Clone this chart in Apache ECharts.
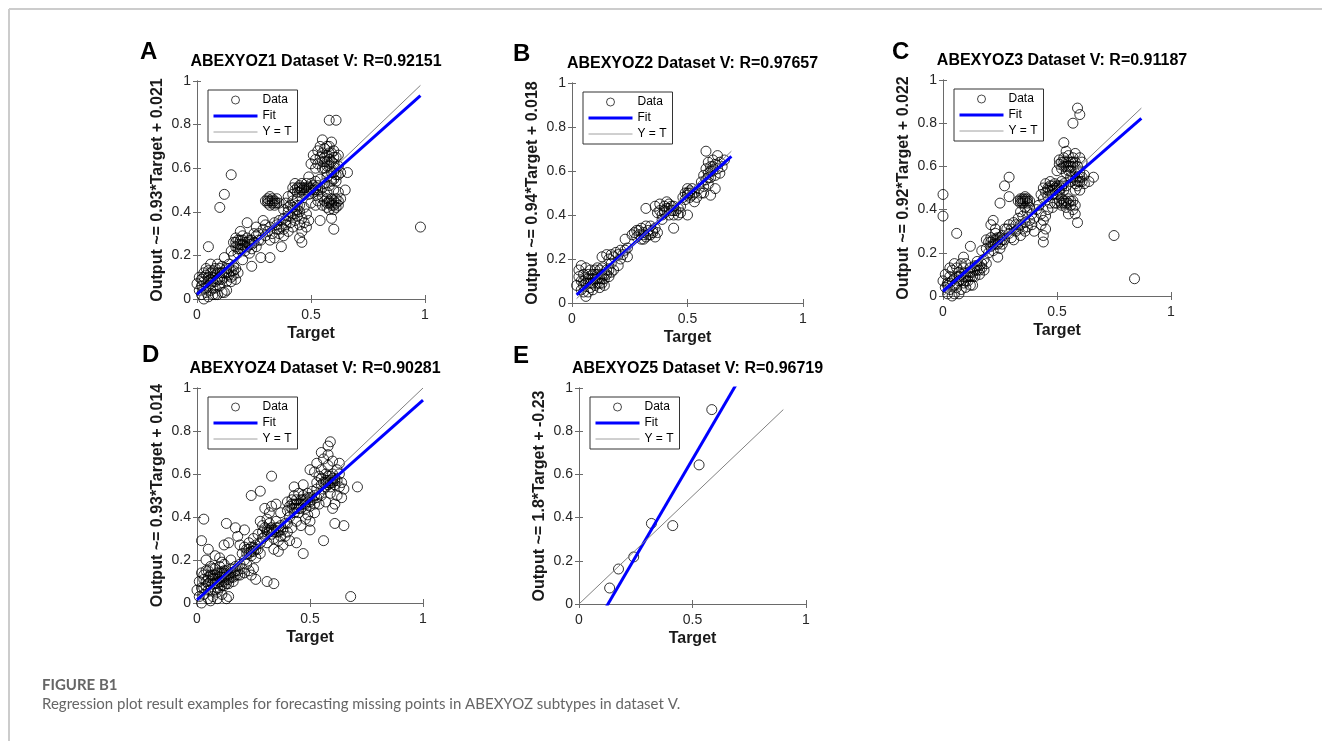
<!DOCTYPE html>
<html>
<head>
<meta charset="utf-8">
<title>Figure B1</title>
<script src="https://cdn.jsdelivr.net/npm/echarts@6/dist/echarts.min.js"></script>
<style>
  html, body { margin: 0; padding: 0; background: #fff; }
  #chart { width: 1322px; height: 741px; }
</style>
</head>
<body>
<div id="chart"></div>
<script>
// panel labels and texts
const panelLetters = ['A', 'B', 'C', 'D', 'E'];
const panelTitles = [
  'ABEXYOZ1 Dataset V: R=0.92151',
  'ABEXYOZ2 Dataset V: R=0.97657',
  'ABEXYOZ3 Dataset V: R=0.91187',
  'ABEXYOZ4 Dataset V: R=0.90281',
  'ABEXYOZ5 Dataset V: R=0.96719'
];
const yNames = [
  'Output ~= 0.93*Target + 0.021',
  'Output ~= 0.94*Target + 0.018',
  'Output ~= 0.92*Target + 0.022',
  'Output ~= 0.93*Target + 0.014',
  'Output ~= 1.8*Target + -0.23'
];
const xTicks = [0, 0.5, 1];
const yTicks = [0, 0.2, 0.4, 0.6, 0.8, 1];

// fit line: slope / intercept as printed, drawn over the target range
const fitSlope = [0.93, 0.94, 0.92, 0.93, 1.8];
const fitIntercept = [0.021, 0.018, 0.022, 0.014, -0.23];
const lineRange = [[0, 0.98], [0.02, 0.69], [0, 0.87], [0, 1.0], [0, 0.9]];

// scatter points [target, output]
const dataA = [
  [0.00,0.07],[0.01,0.04],[0.01,0.10],[0.02,0.02],[0.02,0.06],[0.03,0.12],[0.03,0.08],[0.04,0.03],[0.04,0.14],[0.05,0.06],
  [0.05,0.10],[0.05,0.01],[0.06,0.04],[0.06,0.12],[0.06,0.16],[0.07,0.08],[0.07,0.02],[0.08,0.11],[0.08,0.05],[0.08,0.14],
  [0.09,0.09],[0.09,0.02],[0.10,0.12],[0.10,0.06],[0.11,0.15],[0.11,0.09],[0.12,0.03],[0.12,0.12],[0.13,0.08],[0.13,0.14],
  [0.14,0.11],[0.14,0.16],[0.15,0.13],[0.15,0.08],[0.16,0.15],[0.16,0.11],[0.17,0.14],[0.17,0.09],[0.18,0.12],[0.04,0.11],
  [0.07,0.13],[0.09,0.16],[0.12,0.19],[0.03,0.00],[0.07,0.10],[0.10,0.09],[0.13,0.04],[0.11,0.03],
  [0.02,0.09],[0.03,0.05],[0.04,0.05],[0.05,0.08],[0.06,0.09],[0.06,0.07],[0.07,0.05],[0.08,0.08],[0.09,0.12],[0.10,0.10],
  [0.11,0.12],[0.12,0.10],[0.13,0.12],[0.14,0.14],[0.15,0.10],[0.16,0.13],[0.05,0.13],[0.08,0.02],[0.03,0.10],[0.10,0.14],
  [0.15,0.22],[0.16,0.26],[0.17,0.24],[0.17,0.28],[0.18,0.21],[0.18,0.25],[0.19,0.27],[0.19,0.23],[0.20,0.25],[0.20,0.29],
  [0.21,0.22],[0.21,0.26],[0.22,0.24],[0.22,0.28],[0.23,0.25],[0.23,0.21],[0.24,0.27],[0.24,0.23],[0.25,0.26],[0.26,0.24],
  [0.26,0.29],[0.27,0.27],[0.16,0.20],[0.19,0.31],[0.22,0.35],[0.24,0.15],[0.28,0.19],[0.32,0.19],[0.25,0.30],[0.20,0.18],
  [0.17,0.26],[0.18,0.23],[0.19,0.25],[0.20,0.27],[0.21,0.24],[0.22,0.26],[0.23,0.27],[0.18,0.27],[0.20,0.23],[0.24,0.25],
  [0.05,0.24],[0.10,0.42],[0.12,0.48],[0.15,0.57],
  [0.27,0.30],[0.28,0.27],[0.29,0.32],[0.30,0.29],[0.30,0.34],[0.31,0.31],[0.32,0.27],[0.32,0.33],[0.33,0.30],[0.34,0.35],
  [0.34,0.28],[0.35,0.32],[0.36,0.30],[0.36,0.36],[0.37,0.33],[0.38,0.29],[0.38,0.37],[0.39,0.34],[0.40,0.31],[0.40,0.38],
  [0.41,0.35],[0.42,0.33],[0.37,0.24],[0.29,0.36],[0.26,0.33],
  [0.35,0.34],[0.36,0.32],[0.38,0.32],[0.39,0.36],[0.41,0.38],[0.43,0.39],[0.44,0.41],[0.45,0.43],[0.40,0.42],[0.42,0.42],
  [0.31,0.44],[0.31,0.46],[0.32,0.45],[0.32,0.43],[0.33,0.46],[0.33,0.44],[0.34,0.45],[0.34,0.43],[0.35,0.46],[0.36,0.44],[0.30,0.45],
  [0.31,0.45],[0.32,0.47],[0.33,0.45],[0.34,0.44],[0.35,0.44],
  [0.38,0.41],[0.39,0.44],[0.40,0.40],[0.41,0.43],[0.42,0.39],[0.42,0.45],[0.43,0.41],[0.43,0.36],[0.44,0.43],[0.44,0.38],
  [0.45,0.34],[0.45,0.40],[0.46,0.37],[0.46,0.31],[0.47,0.42],[0.47,0.35],[0.48,0.33],[0.48,0.39],[0.45,0.28],[0.46,0.26],
  [0.49,0.36],[0.44,0.46],[0.42,0.48],[0.40,0.47],
  [0.42,0.51],[0.43,0.50],[0.43,0.53],[0.44,0.51],[0.45,0.49],[0.45,0.52],[0.46,0.50],[0.46,0.53],[0.47,0.48],[0.47,0.51],
  [0.48,0.50],[0.48,0.53],[0.49,0.51],[0.49,0.48],[0.50,0.50],
  [0.44,0.49],[0.45,0.51],[0.46,0.51],[0.47,0.50],[0.48,0.51],[0.50,0.51],[0.51,0.50],[0.52,0.51],[0.53,0.50],
  [0.50,0.53],[0.51,0.49],[0.51,0.52],[0.52,0.50],[0.52,0.54],[0.53,0.48],[0.53,0.52],[0.54,0.50],[0.54,0.55],[0.55,0.51],
  [0.55,0.47],[0.56,0.53],[0.57,0.49],[0.57,0.56],[0.58,0.52],[0.59,0.55],[0.60,0.50],[0.61,0.54],[0.62,0.57],[0.63,0.58],[0.62,0.49],
  [0.50,0.62],[0.51,0.66],[0.52,0.60],[0.52,0.64],[0.53,0.68],[0.53,0.62],[0.54,0.65],[0.54,0.70],[0.55,0.60],[0.55,0.67],
  [0.55,0.73],[0.56,0.63],[0.56,0.69],[0.57,0.66],[0.57,0.61],[0.58,0.70],[0.58,0.64],[0.59,0.67],[0.59,0.72],[0.60,0.62],
  [0.60,0.68],[0.61,0.65],[0.62,0.66],[0.59,0.58],[0.57,0.58],[0.58,0.82],[0.61,0.82],[0.49,0.56],
  [0.55,0.63],[0.56,0.65],[0.57,0.63],[0.58,0.67],[0.59,0.63],[0.60,0.65],[0.58,0.61],[0.56,0.60],[0.57,0.70],[0.60,0.58],
  [0.61,0.60],[0.62,0.61],[0.59,0.54],[0.60,0.55],[0.61,0.57],
  [0.55,0.43],[0.56,0.45],[0.57,0.42],[0.57,0.46],[0.58,0.44],[0.58,0.41],[0.59,0.46],[0.59,0.43],[0.60,0.45],[0.60,0.41],
  [0.61,0.44],[0.62,0.43],[0.63,0.46],[0.54,0.36],[0.59,0.37],[0.60,0.32],[0.52,0.43],[0.53,0.45],[0.65,0.50],[0.66,0.58],[0.50,0.44],
  [0.58,0.45],[0.59,0.44],[0.60,0.43],[0.61,0.42],[0.57,0.44],[0.62,0.45],[0.61,0.46],
  [0.98,0.33]
];

const dataB = [
  [0.02,0.08],[0.03,0.12],[0.03,0.15],[0.04,0.10],[0.04,0.06],[0.05,0.13],[0.05,0.08],[0.06,0.03],[0.06,0.11],[0.06,0.16],
  [0.07,0.09],[0.07,0.13],[0.08,0.07],[0.08,0.11],[0.08,0.15],[0.09,0.09],[0.09,0.13],[0.10,0.08],[0.10,0.11],[0.10,0.15],
  [0.11,0.09],[0.11,0.13],[0.12,0.07],[0.12,0.11],[0.12,0.15],[0.13,0.09],[0.13,0.13],[0.14,0.08],[0.14,0.11],[0.15,0.13],
  [0.15,0.15],[0.16,0.12],[0.16,0.15],[0.17,0.14],[0.18,0.15],[0.05,0.05],[0.09,0.06],[0.07,0.05],[0.11,0.16],[0.13,0.16],[0.04,0.17],
  [0.06,0.09],[0.07,0.11],[0.08,0.09],[0.09,0.11],[0.10,0.13],[0.11,0.11],[0.12,0.09],[0.13,0.11],[0.14,0.13],[0.05,0.10],
  [0.13,0.21],[0.15,0.22],[0.16,0.20],[0.17,0.22],[0.18,0.21],[0.19,0.23],[0.20,0.22],[0.21,0.20],[0.21,0.24],[0.22,0.22],
  [0.23,0.24],[0.24,0.21],[0.24,0.25],[0.23,0.29],[0.20,0.17],[0.17,0.18],
  [0.26,0.31],[0.27,0.32],[0.28,0.30],[0.28,0.33],[0.29,0.31],[0.30,0.34],[0.30,0.29],[0.31,0.32],[0.32,0.35],[0.32,0.30],
  [0.33,0.33],[0.34,0.31],[0.34,0.35],[0.35,0.32],[0.36,0.30],[0.36,0.34],[0.37,0.32],[0.32,0.43],[0.31,0.29],
  [0.29,0.33],[0.31,0.31],[0.33,0.31],[0.35,0.33],
  [0.36,0.44],[0.37,0.41],[0.38,0.45],[0.38,0.42],[0.39,0.40],[0.40,0.44],[0.40,0.41],[0.41,0.43],[0.42,0.40],[0.42,0.45],
  [0.43,0.42],[0.44,0.40],[0.44,0.44],[0.45,0.42],[0.46,0.43],[0.46,0.40],[0.47,0.41],[0.47,0.44],[0.44,0.34],[0.50,0.40],
  [0.39,0.38],[0.41,0.46],[0.40,0.42],[0.42,0.43],[0.43,0.44],[0.44,0.42],
  [0.48,0.48],[0.49,0.47],[0.49,0.50],[0.50,0.49],[0.50,0.52],[0.51,0.48],[0.51,0.51],[0.52,0.49],[0.52,0.52],[0.53,0.50],
  [0.54,0.48],[0.53,0.46],[0.50,0.50],[0.51,0.50],
  [0.55,0.52],[0.56,0.55],[0.56,0.50],[0.57,0.53],[0.57,0.58],[0.58,0.56],[0.58,0.61],[0.58,0.69],[0.59,0.54],[0.59,0.59],
  [0.59,0.64],[0.60,0.57],[0.60,0.62],[0.61,0.60],[0.61,0.65],[0.62,0.58],[0.62,0.63],[0.62,0.52],[0.63,0.61],[0.63,0.67],
  [0.64,0.59],[0.64,0.64],[0.65,0.62],[0.66,0.65],[0.60,0.49],[0.57,0.50],[0.60,0.60],[0.61,0.62],[0.59,0.57]
];

const dataC = [
  [0.00,0.47],[0.00,0.37],[0.06,0.29],[0.12,0.23],[0.75,0.28],[0.84,0.08],[0.59,0.87],[0.60,0.84],[0.57,0.80],[0.53,0.71],
  [0.29,0.55],[0.27,0.51],[0.25,0.43],[0.29,0.46],[0.22,0.35],[0.21,0.33],[0.17,0.21],[0.09,0.18],[0.08,0.15],
  [0.00,0.07],[0.01,0.04],[0.01,0.10],[0.02,0.01],[0.02,0.06],[0.03,0.09],[0.03,0.03],[0.04,0.07],[0.04,0.12],[0.05,0.05],
  [0.05,0.01],[0.06,0.09],[0.06,0.04],[0.07,0.11],[0.07,0.07],[0.08,0.03],[0.08,0.10],[0.09,0.06],[0.09,0.13],[0.10,0.09],
  [0.10,0.04],[0.11,0.11],[0.11,0.07],[0.12,0.13],[0.12,0.09],[0.13,0.05],[0.13,0.11],[0.14,0.14],[0.14,0.09],[0.15,0.12],
  [0.15,0.16],[0.16,0.10],[0.16,0.14],[0.17,0.15],[0.18,0.12],[0.18,0.17],[0.19,0.15],[0.03,0.13],[0.05,0.15],[0.07,0.01],
  [0.10,0.15],[0.12,0.05],[0.04,0.00],[0.06,0.13],
  [0.02,0.05],[0.03,0.06],[0.05,0.08],[0.06,0.06],[0.07,0.09],[0.08,0.07],[0.09,0.09],[0.10,0.07],[0.11,0.09],[0.12,0.11],
  [0.13,0.09],[0.14,0.12],[0.15,0.14],[0.16,0.12],[0.17,0.13],
  [0.19,0.22],[0.20,0.25],[0.20,0.20],[0.21,0.23],[0.21,0.27],[0.22,0.24],[0.22,0.21],[0.23,0.26],[0.23,0.29],[0.24,0.24],
  [0.24,0.27],[0.25,0.25],[0.25,0.22],[0.26,0.28],[0.26,0.24],[0.27,0.26],[0.24,0.18],[0.23,0.31],[0.27,0.31],[0.19,0.26],
  [0.21,0.25],[0.22,0.26],[0.23,0.24],[0.24,0.26],[0.25,0.27],[0.26,0.26],
  [0.28,0.31],[0.29,0.29],[0.29,0.33],[0.30,0.31],[0.31,0.26],[0.31,0.34],[0.32,0.30],[0.32,0.33],[0.33,0.36],[0.33,0.31],
  [0.34,0.28],[0.34,0.33],[0.35,0.31],[0.35,0.37],[0.36,0.34],[0.36,0.30],[0.37,0.32],[0.37,0.39],[0.38,0.35],[0.38,0.41],
  [0.39,0.33],[0.39,0.38],[0.40,0.36],[0.40,0.30],[0.34,0.39],[0.36,0.41],[0.41,0.40],[0.30,0.27],
  [0.33,0.44],[0.34,0.45],[0.34,0.43],[0.35,0.45],[0.35,0.43],[0.36,0.44],[0.37,0.45],[0.37,0.43],[0.38,0.44],[0.36,0.46],
  [0.34,0.44],[0.35,0.44],[0.36,0.45],[0.37,0.44],
  [0.44,0.25],[0.44,0.28],[0.43,0.33],[0.44,0.35],[0.45,0.37],[0.45,0.31],[0.43,0.38],[0.42,0.42],[0.46,0.40],
  [0.43,0.47],[0.44,0.50],[0.44,0.45],[0.45,0.48],[0.45,0.52],[0.46,0.50],[0.46,0.46],[0.47,0.49],[0.47,0.53],[0.48,0.47],
  [0.48,0.51],[0.49,0.49],[0.49,0.52],[0.50,0.50],[0.50,0.47],[0.51,0.51],[0.51,0.48],[0.52,0.50],[0.52,0.53],[0.53,0.49],
  [0.53,0.52],[0.54,0.51],[0.47,0.43],[0.49,0.43],[0.48,0.41],
  [0.46,0.49],[0.47,0.51],[0.48,0.49],[0.49,0.50],[0.50,0.51],[0.51,0.49],[0.52,0.51],
  [0.50,0.43],[0.51,0.44],[0.52,0.42],[0.52,0.45],[0.53,0.43],[0.54,0.44],[0.54,0.41],[0.55,0.43],[0.55,0.45],[0.56,0.42],
  [0.57,0.44],[0.57,0.40],[0.58,0.42],[0.55,0.38],[0.59,0.34],[0.58,0.38],
  [0.52,0.43],[0.53,0.44],[0.54,0.43],[0.56,0.44],
  [0.50,0.58],[0.51,0.61],[0.51,0.63],[0.52,0.59],[0.52,0.62],[0.53,0.64],[0.53,0.60],[0.54,0.57],[0.54,0.62],[0.55,0.65],
  [0.55,0.60],[0.56,0.58],[0.56,0.62],[0.57,0.60],[0.57,0.64],[0.58,0.62],[0.58,0.66],[0.59,0.60],[0.60,0.64],[0.61,0.62],
  [0.58,0.57],[0.54,0.67],[0.56,0.55],
  [0.53,0.62],[0.54,0.60],[0.55,0.62],[0.56,0.60],[0.57,0.62],[0.55,0.58],
  [0.56,0.53],[0.57,0.55],[0.58,0.52],[0.59,0.55],[0.59,0.51],[0.60,0.53],[0.60,0.57],[0.61,0.55],[0.62,0.52],[0.62,0.56],
  [0.64,0.53],[0.66,0.55],[0.60,0.49],[0.58,0.49],[0.58,0.54],[0.59,0.53],[0.60,0.55],[0.61,0.53]
];

const dataD = [
  [0.03,0.39],[0.02,0.29],[0.13,0.37],[0.12,0.27],[0.14,0.28],[0.24,0.50],[0.28,0.52],[0.33,0.59],[0.31,0.10],[0.34,0.09],
  [0.68,0.03],[0.71,0.54],[0.56,0.29],[0.65,0.36],[0.61,0.37],[0.50,0.34],[0.50,0.38],[0.47,0.23],[0.59,0.75],[0.58,0.73],
  [0.52,0.61],[0.50,0.62],[0.55,0.70],[0.26,0.11],[0.24,0.13],[0.05,0.25],[0.08,0.22],[0.18,0.31],[0.21,0.34],[0.17,0.35],
  [0.00,0.06],[0.01,0.03],[0.01,0.10],[0.02,0.14],[0.02,0.07],[0.03,0.04],[0.03,0.11],[0.04,0.08],[0.04,0.15],[0.05,0.02],
  [0.05,0.12],[0.06,0.06],[0.06,0.17],[0.07,0.09],[0.07,0.13],[0.07,0.03],[0.08,0.11],[0.08,0.06],[0.08,0.16],[0.09,0.09],
  [0.09,0.14],[0.09,0.02],[0.10,0.12],[0.10,0.07],[0.10,0.17],[0.11,0.10],[0.11,0.14],[0.11,0.04],[0.12,0.08],[0.12,0.12],
  [0.12,0.18],[0.13,0.11],[0.13,0.15],[0.14,0.09],[0.14,0.13],[0.14,0.03],[0.15,0.12],[0.15,0.16],[0.16,0.14],[0.16,0.10],
  [0.17,0.13],[0.17,0.17],[0.18,0.15],[0.19,0.13],[0.19,0.18],[0.20,0.16],[0.21,0.14],[0.04,0.20],[0.06,0.01],[0.13,0.02],
  [0.10,0.21],[0.15,0.20],[0.03,0.13],[0.05,0.09],[0.09,0.05],[0.12,0.15],[0.02,0.00],[0.11,0.19],
  [0.03,0.07],[0.04,0.10],[0.05,0.06],[0.06,0.10],[0.06,0.13],[0.07,0.11],[0.08,0.09],[0.08,0.13],[0.09,0.11],[0.09,0.07],
  [0.10,0.10],[0.10,0.14],[0.11,0.12],[0.11,0.08],[0.12,0.10],[0.12,0.14],[0.13,0.13],[0.13,0.09],[0.14,0.11],[0.15,0.14],
  [0.16,0.12],[0.17,0.15],[0.18,0.13],[0.05,0.15],[0.07,0.16],
  [0.20,0.23],[0.21,0.20],[0.21,0.26],[0.22,0.23],[0.22,0.18],[0.23,0.25],[0.23,0.28],[0.24,0.22],[0.24,0.26],[0.25,0.24],
  [0.25,0.30],[0.26,0.27],[0.26,0.21],[0.27,0.25],[0.27,0.32],[0.28,0.28],[0.28,0.23],[0.29,0.30],[0.25,0.16],[0.23,0.15],
  [0.19,0.27],[0.29,0.36],[0.22,0.25],[0.23,0.23],[0.24,0.24],[0.25,0.26],[0.26,0.25],
  [0.29,0.33],[0.30,0.31],[0.30,0.35],[0.31,0.33],[0.31,0.28],[0.32,0.34],[0.32,0.37],[0.33,0.32],[0.33,0.35],[0.34,0.33],
  [0.34,0.30],[0.35,0.35],[0.35,0.38],[0.36,0.33],[0.36,0.29],[0.37,0.36],[0.37,0.31],[0.38,0.34],[0.38,0.27],[0.39,0.31],
  [0.39,0.37],[0.40,0.33],[0.34,0.25],[0.36,0.24],[0.32,0.42],[0.30,0.44],[0.35,0.46],[0.33,0.45],[0.37,0.42],[0.31,0.39],[0.28,0.38],
  [0.31,0.34],[0.32,0.33],[0.33,0.34],[0.34,0.34],[0.35,0.33],[0.36,0.35],[0.37,0.34],
  [0.40,0.43],[0.40,0.47],[0.41,0.45],[0.41,0.40],[0.42,0.44],[0.42,0.48],[0.43,0.42],[0.43,0.46],[0.43,0.50],[0.44,0.44],
  [0.44,0.48],[0.45,0.46],[0.45,0.42],[0.45,0.51],[0.46,0.48],[0.46,0.44],[0.47,0.46],[0.47,0.50],[0.48,0.48],[0.48,0.44],
  [0.49,0.47],[0.49,0.51],[0.50,0.49],[0.50,0.45],[0.51,0.48],[0.51,0.52],[0.52,0.50],[0.52,0.46],[0.53,0.49],[0.53,0.53],
  [0.54,0.51],[0.44,0.38],[0.46,0.36],[0.48,0.39],[0.42,0.35],[0.41,0.29],[0.44,0.28],[0.40,0.37],[0.43,0.54],[0.47,0.55],
  [0.49,0.41],[0.52,0.42],[0.54,0.46],
  [0.42,0.46],[0.43,0.44],[0.44,0.46],[0.45,0.44],[0.46,0.46],[0.47,0.48],[0.48,0.46],[0.49,0.49],[0.50,0.47],
  [0.53,0.56],[0.54,0.59],[0.55,0.55],[0.55,0.58],[0.55,0.62],[0.56,0.56],[0.56,0.53],[0.57,0.57],[0.57,0.60],[0.57,0.54],
  [0.58,0.56],[0.58,0.59],[0.58,0.64],[0.59,0.57],[0.59,0.54],[0.60,0.56],[0.60,0.60],[0.60,0.66],[0.61,0.55],[0.61,0.58],
  [0.62,0.57],[0.62,0.62],[0.63,0.54],[0.63,0.60],[0.64,0.56],[0.62,0.50],[0.64,0.49],[0.61,0.46],[0.57,0.47],[0.55,0.50],
  [0.59,0.51],[0.56,0.67],[0.53,0.65],[0.58,0.69],[0.63,0.65],[0.65,0.53],[0.60,0.44],
  [0.57,0.56],[0.58,0.57],[0.59,0.56],[0.60,0.58],[0.61,0.57],[0.59,0.59],[0.58,0.55]
];

const dataE = [
  [0.135,0.074],[0.174,0.162],[0.241,0.218],[0.319,0.373],[0.413,0.363],[0.529,0.644],[0.585,0.90]
];

const panelData = [dataA, dataB, dataC, dataD, dataE];

// plot boxes in page pixels
const boxes = [
  { left: 197, top: 81, width: 228, height: 218 },
  { left: 572, top: 83, width: 231, height: 220 },
  { left: 943, top: 80, width: 228, height: 216 },
  { left: 197, top: 388, width: 226, height: 215 },
  { left: 579, top: 388, width: 227, height: 216 }
];

const FONT = '"Liberation Sans", Arial, sans-serif';
const axisGray = '#6a6a6a';

const chart = echarts.init(document.getElementById('chart'), null, { renderer: 'canvas' });

const grids = [], xAxes = [], yAxes = [], series = [], legends = [], graphics = [];

boxes.forEach((b, i) => {
  grids.push({ left: b.left, top: b.top, width: b.width, height: b.height, containLabel: false });

  const tickStyle = { show: true, inside: true, length: 4, lineStyle: { color: axisGray, width: 1 } };
  const lineStyle = { show: true, lineStyle: { color: axisGray, width: 1 } };

  // bottom and top x axes
  xAxes.push({
    type: 'value', gridIndex: i, position: 'bottom', min: 0, max: 1, interval: 0.5,
    axisLine: lineStyle, axisTick: tickStyle, splitLine: { show: false },
    axisLabel: { fontSize: 14, color: '#262626', fontFamily: FONT, margin: 9,
      formatter: v => xTicks.indexOf(v) >= 0 ? String(v) : '' },
    name: 'Target', nameLocation: 'middle', nameGap: 27,
    nameTextStyle: { fontSize: 16, fontWeight: 'bold', color: '#1a1a1a', fontFamily: FONT }
  });
  xAxes.push({
    type: 'value', gridIndex: i, position: 'top', min: 0, max: 1, interval: 0.5,
    axisLine: lineStyle, axisTick: tickStyle, axisLabel: { show: false }, splitLine: { show: false }
  });

  // left and right y axes
  yAxes.push({
    type: 'value', gridIndex: i, position: 'left', min: 0, max: 1, interval: 0.2,
    axisLine: lineStyle, axisTick: tickStyle, splitLine: { show: false },
    axisLabel: { fontSize: 14, color: '#262626', fontFamily: FONT, margin: 6,
      formatter: v => String(yTicks[Math.round(v * 5)]) },
    name: yNames[i], nameLocation: 'middle', nameGap: 31,
    nameTextStyle: { fontSize: 16, fontWeight: 'bold', color: '#1a1a1a', fontFamily: FONT }
  });
  yAxes.push({
    type: 'value', gridIndex: i, position: 'right', min: 0, max: 1, interval: 0.2,
    axisLine: lineStyle, axisTick: tickStyle, axisLabel: { show: false }, splitLine: { show: false }
  });

  series.push({
    name: 'Data', type: 'scatter', xAxisIndex: 2 * i, yAxisIndex: 2 * i,
    data: panelData[i], symbol: 'circle', symbolSize: 10,
    itemStyle: { color: 'rgba(0,0,0,0)', borderColor: '#000', borderWidth: 1 },
    emphasis: { disabled: true }, silent: true, z: 2
  });

  const r = lineRange[i];
  series.push({
    name: 'Fit', type: 'line', xAxisIndex: 2 * i, yAxisIndex: 2 * i,
    data: r.map(x => [x, fitSlope[i] * x + fitIntercept[i]]),
    symbol: 'none', clip: true, silent: true, z: 3,
    lineStyle: { color: '#0000ff', width: 3 }, itemStyle: { color: '#0000ff' }
  });
  series.push({
    name: 'Y = T', type: 'line', xAxisIndex: 2 * i, yAxisIndex: 2 * i,
    data: r.map(x => [x, x]),
    symbol: 'none', clip: true, silent: true, z: 4,
    lineStyle: { color: '#808080', width: 1 }, itemStyle: { color: '#808080' }
  });

  legends.push({
    left: b.left + 11, top: b.top + 9, orient: 'vertical',
    itemWidth: 44, itemHeight: 8, itemGap: 2, padding: [3, 6, 3, 4],
    borderColor: '#333', borderWidth: 1, backgroundColor: '#fff',
    selectedMode: false, z: 10,
    textStyle: { fontSize: 12, color: '#000', fontFamily: FONT, lineHeight: 14 },
    data: [
      { name: 'Data', icon: 'circle', itemStyle: { color: 'rgba(0,0,0,0)', borderColor: '#000', borderWidth: 0.9 } },
      { name: 'Fit', itemStyle: { opacity: 0 }, lineStyle: { width: 3, color: '#0000ff' } },
      { name: 'Y = T', itemStyle: { opacity: 0 }, lineStyle: { width: 1, color: '#a0a0a0' } }
    ]
  });

  // panel title
  graphics.push({
    type: 'text', x: b.left + b.width / 2 + 5, y: b.top - 19,
    style: { text: panelTitles[i], font: 'bold 16px ' + FONT, fill: '#000', textAlign: 'center', textVerticalAlign: 'middle' }
  });
});

const letterPos = [[140, 52], [513, 54], [892, 52], [142, 355], [513, 356]];
letterPos.forEach((p, i) => {
  graphics.push({
    type: 'text', x: p[0], y: p[1],
    style: { text: panelLetters[i], font: 'bold 24px ' + FONT, fill: '#000', textAlign: 'left', textVerticalAlign: 'middle' }
  });
});

// page frame and caption
graphics.push({ type: 'line', shape: { x1: 9, y1: 9, x2: 1322, y2: 9 }, style: { stroke: '#cccccc', lineWidth: 2 } });
graphics.push({ type: 'line', shape: { x1: 9, y1: 9, x2: 9, y2: 741 }, style: { stroke: '#cccccc', lineWidth: 2 } });
graphics.push({
  type: 'text', x: 42, y: 685,
  style: { text: 'FIGURE B1', font: 'bold 15px Lato, "Open Sans", sans-serif', fill: '#666', textAlign: 'left', textVerticalAlign: 'middle' }
});
graphics.push({
  type: 'text', x: 42, y: 704,
  style: { text: 'Regression plot result examples for forecasting missing points in ABEXYOZ subtypes in dataset V.',
    font: '15px Lato, "Open Sans", sans-serif', fill: '#666', textAlign: 'left', textVerticalAlign: 'middle' }
});

chart.setOption({
  animation: false,
  backgroundColor: '#fff',
  grid: grids,
  xAxis: xAxes,
  yAxis: yAxes,
  legend: legends,
  series: series,
  graphic: graphics
});
</script>
</body>
</html>
